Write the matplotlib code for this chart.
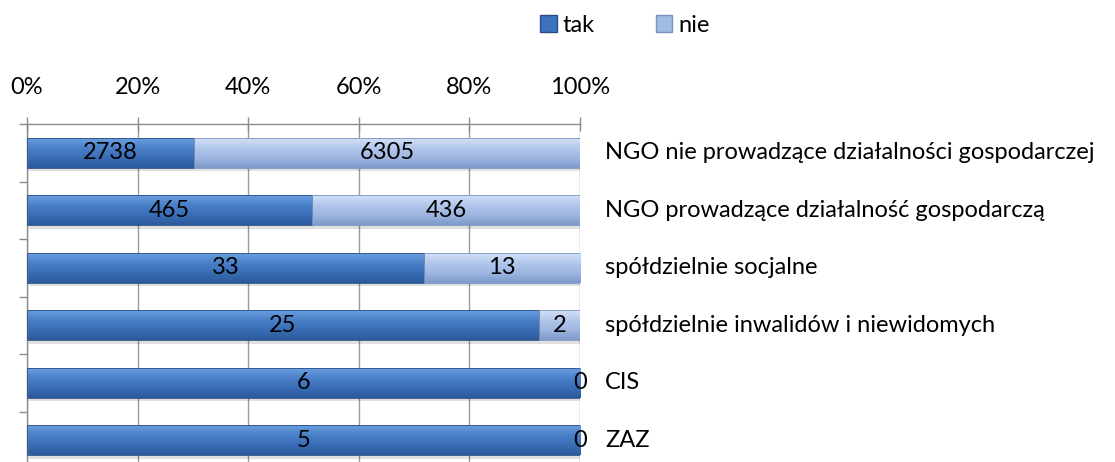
import numpy as np
import matplotlib.pyplot as plt
from matplotlib.patches import Patch
from matplotlib.colors import LinearSegmentedColormap

plt.rcParams['font.family'] = ['Lato', 'DejaVu Sans']

categories = ["NGO nie prowadzące działalności gospodarczej",
              "NGO prowadzące działalność gospodarczą",
              "spółdzielnie socjalne",
              "spółdzielnie inwalidów i niewidomych",
              "CIS",
              "ZAZ"]
tak = [2738, 465, 33, 25, 6, 5]
nie = [6305, 436, 13, 2, 0, 0]
series_names = ["tak", "nie"]
tick_labels = ["0%", "20%", "40%", "60%", "80%", "100%"]

FS = 17

tak_cmap = LinearSegmentedColormap.from_list(
    "tak", ["#2b5a9a", "#3a6db6", "#4a80c8", "#6a9ee0"])
nie_cmap = LinearSegmentedColormap.from_list(
    "nie", ["#7f9bcb", "#9db5e0", "#b2c7ec", "#d4e1f6"])

tak = np.array(tak, dtype=float)
nie = np.array(nie, dtype=float)
total = tak + nie
tak_pct = tak / total * 100
nie_pct = nie / total * 100

fig = plt.figure(figsize=(11.15, 4.62), dpi=100)
ax = fig.add_axes([0.0242, -0.0152, 0.4960, 0.7468])

y = np.arange(len(categories))[::-1]
h = 0.52
grad = np.linspace(0, 1, 64).reshape(-1, 1)


def gradient_bars(bars, cmap):
    for b in bars:
        x0, y0 = b.get_x(), b.get_y()
        w, hh = b.get_width(), b.get_height()
        if w <= 0:
            continue
        # soft shadow below the bar
        ax.add_patch(plt.Rectangle((x0 + 0.3, y0 - 0.06), w, hh, color="#000000",
                                   alpha=0.12, lw=0, zorder=1.5))
        im = ax.imshow(grad, cmap=cmap, aspect="auto", origin="lower",
                       extent=(x0, x0 + w, y0, y0 + hh), zorder=2,
                       interpolation="bilinear")
        im.set_clip_path(b)
        b.set_facecolor("none")


bars_tak = ax.barh(y, tak_pct, height=h, edgecolor="#2a4f85", lw=0.6, zorder=3)
bars_nie = ax.barh(y, nie_pct, left=tak_pct, height=h, edgecolor="#7a93bf",
                   lw=0.6, zorder=3)
gradient_bars(bars_tak, tak_cmap)
gradient_bars(bars_nie, nie_cmap)

# value labels in the middle of each segment
for yi, tp, npct, tv, nv in zip(y, tak_pct, nie_pct, tak, nie):
    ax.text(tp / 2, yi, f"{int(tv)}", ha="center", va="center",
            fontsize=FS, color="black", zorder=5)
    ax.text(tp + npct / 2, yi, f"{int(nv)}", ha="center", va="center",
            fontsize=FS, color="black", zorder=5)

ax.set_xlim(0, 100)
ax.set_ylim(-0.5, len(categories) - 0.5)
ax.xaxis.tick_top()
ax.set_xticks(np.arange(0, 101, 20))
ax.set_xticklabels(tick_labels, fontsize=FS)
ax.tick_params(axis="x", direction="inout", length=10, color="#8c8c8c",
               pad=14, width=1)
ax.set_yticks(np.arange(-0.5, len(categories), 1))
ax.set_yticklabels([])
ax.tick_params(axis="y", direction="out", length=6, color="#8c8c8c", width=1)
ax.grid(axis="x", color="#9a9a9a", lw=1, zorder=0)
ax.set_axisbelow(True)
for side in ["right", "bottom"]:
    ax.spines[side].set_visible(False)
for side in ["top", "left"]:
    ax.spines[side].set_color("#8c8c8c")
    ax.spines[side].set_linewidth(1)

# category names to the right of the plot
for yi, name in zip(y, categories):
    ax.text(104.5, yi, name, ha="left", va="center", fontsize=FS,
            clip_on=False)

handles = [Patch(facecolor="#3d72bd", edgecolor="#2a4f85"),
           Patch(facecolor="#a3bce4", edgecolor="#7a93bf")]
fig.legend(handles, series_names, loc="center left", ncol=2, frameon=False,
           bbox_to_anchor=(540 / 1115, 1 - 25 / 462), fontsize=FS,
           handlelength=0.7, handleheight=0.7, handletextpad=0.25,
           columnspacing=2.6, borderpad=0, borderaxespad=0)

fig.savefig("out.png", dpi=100)
